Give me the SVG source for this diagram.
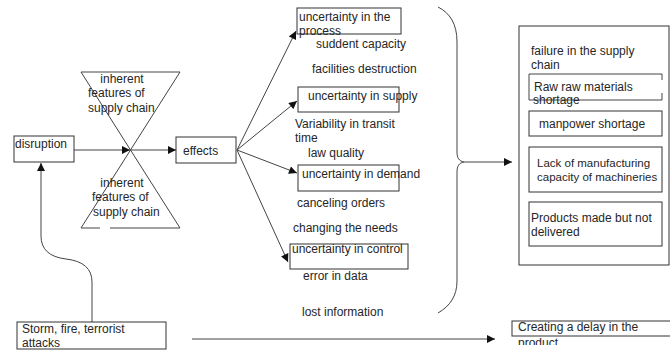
<svg xmlns="http://www.w3.org/2000/svg" width="670" height="354" viewBox="0 0 670 354">
<defs>
<style>
text{font-family:"Liberation Sans",Arial,sans-serif;font-size:12px;fill:#262626}
.box{fill:#fff;stroke:#333;stroke-width:1}
.ln{fill:none;stroke:#444;stroke-width:1}
.sm{font-size:11.5px}
</style>
<marker id="ah" viewBox="0 0 10 10" refX="10" refY="5" markerUnits="userSpaceOnUse" markerWidth="9" markerHeight="8" orient="auto">
<path d="M0,0 L10,5 L0,10 z" fill="#111"/>
</marker>
<clipPath id="clipProd"><rect x="500" y="300" width="170" height="45"/></clipPath>
</defs>
<rect width="670" height="354" fill="#fff"/>

<g id="connectors">
<path class="ln" d="M74,150 L130,150" marker-end="url(#ah)"/>
<path class="ln" d="M130,150 L176,150" marker-end="url(#ah)"/>
<path class="ln" d="M237,150 L296,31" marker-end="url(#ah)"/>
<path class="ln" d="M237,150 L297,101" marker-end="url(#ah)"/>
<path class="ln" d="M237,150 L297,173" marker-end="url(#ah)"/>
<path class="ln" d="M237,150 L288,262" marker-end="url(#ah)"/>
<path class="ln" d="M92,322 L92,282 Q92,262 66,259 Q41,256 41,236 L41,163" marker-end="url(#ah)"/>
<path class="ln" d="M192,339 L495,339" marker-end="url(#ah)"/>
<path class="ln" d="M438,7 C450,13 457,24 457,42 L457,152 C457,158 459,161 464,162 C459,163 457,166 457,172 L457,281 C457,296 450,306 438,313" stroke="#555"/>
<path class="ln" d="M464,162 L512,162" marker-end="url(#ah)"/>
</g>

<g id="inherent-top">
<path class="ln" d="M81,72 L180,72 M81,72 L180,228 M180,72 L81,228 M81,228 L100,228 M110,228 L180,228"/>
<text x="122" y="83" text-anchor="middle">inherent</text>
<text x="88" y="97">features of</text>
<text x="88" y="112">supply chain</text>
</g>
<g id="inherent-bottom">
<text x="122" y="187" text-anchor="middle">inherent</text>
<text x="92" y="201">features of</text>
<text x="93" y="216">supply chain</text>
</g>

<g id="disruption">
<rect class="box" x="14" y="136" width="60" height="26"/>
<text x="15" y="148">disruption</text>
</g>

<g id="effects">
<rect class="box" x="176" y="137" width="60" height="26"/>
<text x="183" y="155">effects</text>
</g>

<g id="unc-process">
<rect class="box" x="297" y="8" width="104" height="26"/>
<text x="299" y="21">uncertainty in the</text>
<text x="299" y="35">process</text>
</g>
<g id="process-items">
<text x="316" y="48">suddent capacity</text>
<text x="312" y="73">facilities destruction</text>
</g>

<g id="unc-supply">
<rect class="box" x="298" y="87" width="101" height="25"/>
<text x="308" y="100">uncertainty in supply</text>
</g>
<g id="supply-items">
<text x="295" y="128">Variability in transit</text>
<text x="295" y="142">time</text>
<text x="308" y="157">law quality</text>
</g>

<g id="unc-demand">
<rect class="box" x="298" y="165" width="101" height="26"/>
<text x="302" y="178">uncertainty in demand</text>
</g>
<g id="demand-items">
<text x="297" y="207">canceling orders</text>
<text x="293" y="232">changing the needs</text>
</g>

<g id="unc-control">
<rect class="box" x="290" y="244" width="118" height="25"/>
<text x="292" y="253">uncertainty in control</text>
</g>
<g id="control-items">
<text x="303" y="280">error in data</text>
<text x="302" y="316">lost information</text>
</g>

<g id="failure">
<rect class="box" x="519" y="26" width="150" height="239"/>
<text x="531" y="55">failure in the supply</text>
<text x="531" y="69">chain</text>
</g>
<g id="raw">
<path class="ln" d="M662,80 L662,74 L529,74 L529,100 L662,100 L662,93" stroke="#333"/>
<text x="534" y="91">Raw raw materials</text>
<text x="533" y="104">shortage</text>
</g>
<g id="manpower">
<rect class="box" x="529" y="111" width="133" height="25"/>
<text x="539" y="128">manpower shortage</text>
</g>
<g id="lack">
<rect class="box" x="529" y="147" width="133" height="45"/>
<text class="sm" x="537" y="167">Lack of manufacturing</text>
<text class="sm" x="537" y="181">capacity of machineries</text>
</g>
<g id="products">
<rect class="box" x="529" y="202" width="133" height="44"/>
<text x="531" y="222">Products made but not</text>
<text x="531" y="236">delivered</text>
</g>

<g id="storm">
<rect class="box" x="17" y="322" width="149" height="27"/>
<text x="22" y="333">Storm, fire, terrorist</text>
<text x="22" y="347">attacks</text>
</g>

<g id="delay">
<rect class="box" x="512" y="321" width="160" height="15"/>
<text x="518" y="331">Creating a delay in the</text>
<text x="518" y="347" clip-path="url(#clipProd)">product</text>
</g>
</svg>
